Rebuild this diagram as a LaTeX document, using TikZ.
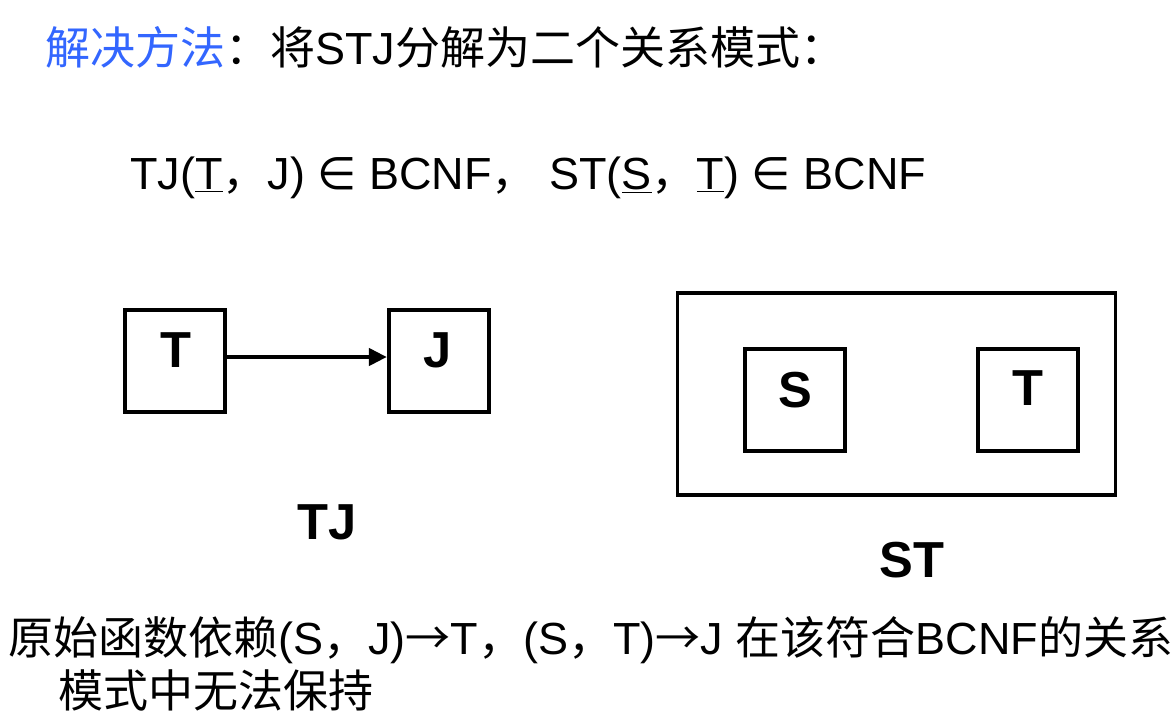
\documentclass[tikz,border=0pt]{standalone}
\usepackage{fontspec}
\setmainfont{Liberation Sans}
\newfontfamily\cjk{Noto Sans CJK SC}
\newfontfamily\sym{DejaVu Sans}
\usetikzlibrary{positioning, arrows.meta}
\definecolor{titleblue}{RGB}{51,102,255}
\tikzset{
>={Triangle[length=0.45cm,width=0.42cm]}, % solid arrow heads
attr/.style={draw, line width=2.9pt, minimum width=2.5cm, minimum height=2.55cm, inner sep=0pt}, % attribute boxes
attrlabel/.style={font=\fontsize{36}{40}\selectfont\bfseries, inner sep=0pt}, % letters in the boxes
relname/.style={font=\fontsize{36}{40}\selectfont\bfseries, inner sep=0pt}, % TJ and ST under the boxes
line/.style={font=\fontsize{32}{38}\selectfont, inner sep=0pt, anchor=west}, % running text
}

\begin{document}
\begin{tikzpicture}[x=0.025cm, y=-0.025cm]
                \useasboundingbox (0,0) rectangle (1176,725);
                % text above
                \node[line] (title) at (45,47) {{\cjk\color{titleblue}解决方法}{\cjk：将}STJ{\cjk 分解为二个关系模式：}};
                \node[line] (bcnf) at (130,178) {TJ(\underline{T}{\cjk ，}J) {\sym ∈} BCNF{\cjk ，} ST(\underline{S}{\cjk ，}\underline{T}) {\sym ∈} BCNF};
                % relation TJ
                \node[attr] (tbox) at (175,361) {};
                \node[attr] (jbox) at (439,361) {};
                \node[attrlabel] (tlab) at (176,350) {T};
                \node[attrlabel] (jlab) at (438,350) {J};
                \draw[->, line width=3.3pt] ([xshift=-0.1cm]tbox.east |- 0,357) -- (jbox.west |- 0,357);
                \node[relname] (tj) at (327,522) {TJ};
                % relation ST
                \node[draw, line width=2.6pt, minimum width=10.95cm, minimum height=5.05cm, inner sep=0pt] (stbox) at (896.5,394) {};
                \node[attr] (sbox) at (795,400) {};
                \node[attr] (t2box) at (1028,400) {};
                \node[attrlabel] (slab) at (795,390) {S};
                \node[attrlabel] (t2lab) at (1028,388) {T};
                \node[relname] (st) at (912,560) {ST};
                % text below
                \node[line] (note1) at (8,640) {{\cjk 原始函数依赖}(S{\cjk ，}J){\cjk →}T{\cjk ，}(S{\cjk ，}T){\cjk →}J {\cjk 在该符合}BCNF{\cjk 的关系}};
                \node[line] (note2) at (58,690) {\cjk 模式中无法保持};
                \end{tikzpicture}
\end{document}
